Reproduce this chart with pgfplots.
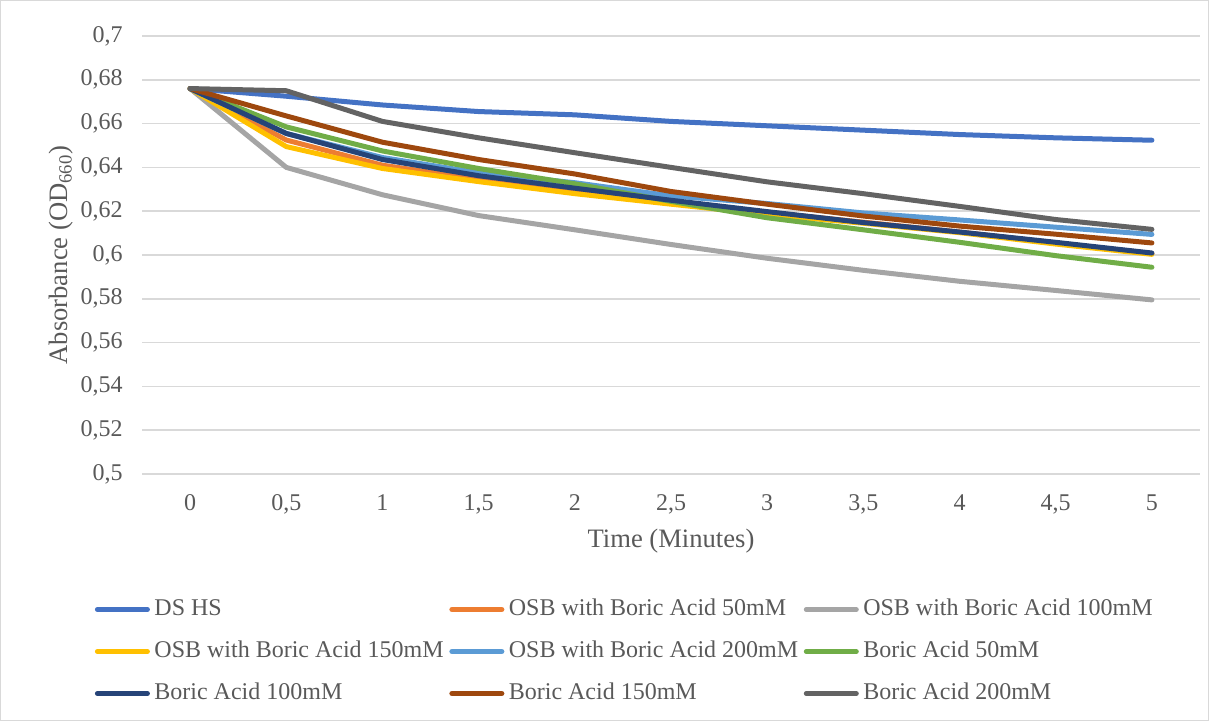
\documentclass[border=0pt]{standalone}
\usepackage{fontspec}
\setmainfont{Liberation Serif}
\usepackage{pgfplots}
\usepackage{pgfplotstable}
\pgfplotsset{compat=1.18}
\definecolor{txt}{HTML}{595959}
\definecolor{gridc}{HTML}{D9D9D9}
\definecolor{cDS}{HTML}{4472C4}
\definecolor{cO50}{HTML}{ED7D31}
\definecolor{cO100}{HTML}{A5A5A5}
\definecolor{cO150}{HTML}{FFC000}
\definecolor{cO200}{HTML}{5B9BD5}
\definecolor{cB50}{HTML}{70AD47}
\definecolor{cB100}{HTML}{264478}
\definecolor{cB150}{HTML}{9E480E}
\definecolor{cB200}{HTML}{636363}

\pgfplotstableread{
x   dshs   osb50  osb100 osb150 osb200 ba50   ba100  ba150  ba200
0   0.676  0.676  0.676  0.676  0.676  0.676  0.676  0.676  0.676
0.5 0.6725 0.6525 0.640  0.6495 0.6555 0.6585 0.6555 0.6635 0.675
1   0.6685 0.641  0.6275 0.6395 0.6445 0.6475 0.6436 0.6515 0.661
1.5 0.6655 0.6345 0.6180 0.6335 0.6375 0.6395 0.6362 0.6436 0.6535
2   0.664  0.629  0.6115 0.628  0.633  0.6325 0.6305 0.637  0.6467
2.5 0.661  0.624  0.6048 0.6232 0.627  0.6245 0.625  0.629  0.640
3   0.659  0.6195 0.5985 0.6185 0.6235 0.617  0.6198 0.6232 0.6334
3.5 0.657  0.615  0.593  0.6145 0.6192 0.6115 0.6148 0.6178 0.628
4   0.655  0.6105 0.588  0.6102 0.616  0.6058 0.6105 0.6132 0.6222
4.5 0.6535 0.6055 0.5838 0.605  0.6127 0.5997 0.6058 0.6095 0.6162
5   0.6524 0.6007 0.5795 0.6003 0.6094 0.5944 0.6009 0.6055 0.6117
}\datatable

\begin{document}
\begin{tikzpicture}
\useasboundingbox (0,0) rectangle (604.5pt,360.5pt);
\draw[color=gridc, line width=0.6pt] (0.3pt,0.3pt) rectangle (604.2pt,360.2pt);
\begin{axis}[
  at={(71pt,123.5pt)}, anchor=south west,
  scale only axis, width=529pt, height=219pt,
  xmin=-0.25, xmax=5.25, ymin=0.5, ymax=0.7,
  axis line style={draw=none},
  major tick style={draw=none},
  xtick={0,0.5,1,1.5,2,2.5,3,3.5,4,4.5,5},
  xticklabels={0,{0,5},1,{1,5},2,{2,5},3,{3,5},4,{4,5},5},
  ytick={0.5,0.52,0.54,0.56,0.58,0.6,0.62,0.64,0.66,0.68,0.7},
  ymajorgrids,
  grid style={color=gridc, line width=0.75pt},
  yticklabel style={/pgf/number format/fixed, /pgf/number format/precision=2, /pgf/number format/use comma, /pgf/number format/assume math mode=true},
  tick label style={font=\fontsize{12}{14}\selectfont, text=txt, inner sep=0pt},
  yticklabel style={anchor=east, xshift=-9.5pt},
  xticklabel style={anchor=north, yshift=-10pt},
  xlabel={Time (Minutes)},
  ylabel={Absorbance (OD\textsubscript{660})},
  label style={font=\fontsize{13.3}{16}\selectfont, text=txt},
  xlabel style={at={(axis description cs:0.5,-0.153)}, anchor=center},
  ylabel style={at={(axis description cs:-0.0766,0.5)}, anchor=center},
  every axis plot/.append style={line width=2.5pt, line join=round, line cap=round, mark=none},
  legend columns=3,
  legend cell align=left,
  legend image code/.code={\draw[#1, line width=2.5pt, line cap=round] (0pt,0pt) -- (25pt,0pt);},
  legend style={at={(axis description cs:-0.0445,-0.2855)}, anchor=north west,
    draw=none, fill=none, inner sep=0pt, outer sep=0pt,
    row sep=10.5pt, column sep=0pt,
    font=\fontsize{12}{14}\selectfont, text=txt,
    nodes={inner sep=0pt, text height=8pt, text depth=2.5pt, anchor=west},
    /tikz/every odd column/.append style={column sep=2.25pt},
    /tikz/every even column/.append style={column sep=2.8pt}},
]
\addplot[color=cDS]   table[x=x,y=dshs]   {\datatable};
\addlegendentry{DS HS}
\addplot[color=cO50]  table[x=x,y=osb50]  {\datatable};
\addlegendentry{OSB with Boric Acid 50mM}
\addplot[color=cO100] table[x=x,y=osb100] {\datatable};
\addlegendentry{OSB with Boric Acid 100mM}
\addplot[color=cO150] table[x=x,y=osb150] {\datatable};
\addlegendentry{OSB with Boric Acid 150mM}
\addplot[color=cO200] table[x=x,y=osb200] {\datatable};
\addlegendentry{OSB with Boric Acid 200mM}
\addplot[color=cB50]  table[x=x,y=ba50]   {\datatable};
\addlegendentry{Boric Acid 50mM}
\addplot[color=cB100] table[x=x,y=ba100]  {\datatable};
\addlegendentry{Boric Acid 100mM}
\addplot[color=cB150] table[x=x,y=ba150]  {\datatable};
\addlegendentry{Boric Acid 150mM}
\addplot[color=cB200] table[x=x,y=ba200]  {\datatable};
\addlegendentry{Boric Acid 200mM}
\end{axis}
\end{tikzpicture}
\end{document}
